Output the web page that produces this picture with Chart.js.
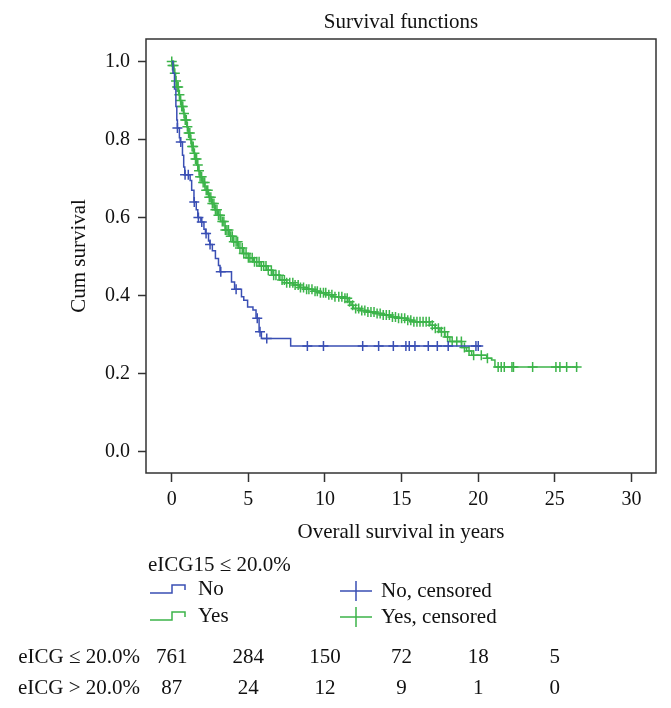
<!DOCTYPE html>
<html>
<head>
<meta charset="utf-8">
<script src="https://cdn.jsdelivr.net/npm/chart.js@4"></script>
<style>
  html, body { margin: 0; padding: 0; background: #fff; }
  #wrap { width: 671px; height: 708px; }
</style>
</head>
<body>
<div id="wrap"><canvas id="chart" width="671" height="708"></canvas></div>
<script>
// Kaplan-Meier steps: event time (years) and survival after that event
const noTimes = [0, 0.08, 0.18, 0.27, 0.33, 0.37, 0.5, 0.55, 0.7, 0.78, 0.85, 1.2, 1.3, 1.45, 1.6, 1.7, 1.9, 2.1, 2.2, 2.4, 2.48, 2.65, 2.85, 3.05, 3.15, 3.9, 4.1, 4.55, 4.7, 4.95, 5.3, 5.5, 5.7, 5.85, 7.76, 20.2];
const noSurv = [1.0, 0.97, 0.93, 0.885, 0.85, 0.83, 0.805, 0.794, 0.76, 0.73, 0.71, 0.695, 0.67, 0.64, 0.62, 0.6, 0.589, 0.57, 0.559, 0.54, 0.531, 0.515, 0.495, 0.477, 0.461, 0.435, 0.416, 0.397, 0.388, 0.371, 0.363, 0.342, 0.307, 0.29, 0.271, 0.271];
const noCensored = [0.37, 0.59, 0.87, 1.08, 1.47, 1.74, 1.96, 2.24, 2.5, 3.2, 4.2, 5.58, 5.76, 6.2, 8.85, 9.9, 12.46, 13.5, 14.46, 15.28, 15.5, 15.87, 16.74, 17.33, 18.04, 19.85, 20.0];

const yesTimes = [0, 0.05, 0.15, 0.25, 0.33, 0.45, 0.54, 0.65, 0.76, 0.87, 0.98, 1.08, 1.19, 1.3, 1.41, 1.52, 1.63, 1.74, 1.85, 2.0, 2.17, 2.4, 2.6, 2.8, 2.98, 3.2, 3.48, 3.75, 4.02, 4.35, 4.67, 5.0, 5.32, 5.75, 6.2, 6.6, 7.06, 7.5, 7.93, 8.35, 8.8, 9.2, 9.67, 10.1, 10.54, 11.2, 11.5, 11.7, 11.85, 12.3, 12.72, 13.3, 13.8, 14.3, 14.78, 15.3, 15.76, 16.85, 17.18, 17.5, 17.83, 18.15, 18.92, 19.24, 19.57, 20.55, 20.87, 21.09, 26.5];
const yesSurv = [1.0, 0.99, 0.97, 0.95, 0.935, 0.915, 0.9, 0.885, 0.867, 0.85, 0.833, 0.817, 0.8, 0.782, 0.765, 0.75, 0.735, 0.72, 0.705, 0.69, 0.67, 0.652, 0.636, 0.62, 0.606, 0.59, 0.568, 0.552, 0.538, 0.522, 0.508, 0.497, 0.487, 0.476, 0.465, 0.452, 0.44, 0.433, 0.427, 0.421, 0.416, 0.411, 0.407, 0.402, 0.397, 0.393, 0.384, 0.375, 0.367, 0.362, 0.358, 0.354, 0.35, 0.345, 0.342, 0.337, 0.333, 0.324, 0.316, 0.307, 0.294, 0.282, 0.267, 0.258, 0.247, 0.239, 0.235, 0.217, 0.217];
const yesCensored = [0.0, 0.05, 0.12, 0.2, 0.28, 0.35, 0.42, 0.5, 0.58, 0.65, 0.72, 0.8, 0.88, 0.95, 1.02, 1.1, 1.18, 1.25, 1.33, 1.4, 1.48, 1.55, 1.62, 1.7, 1.78, 1.85, 1.95, 2.05, 2.15, 2.25, 2.35, 2.45, 2.55, 2.65, 2.75, 2.85, 2.95, 3.05, 3.15, 3.3, 3.4, 3.5, 3.6, 3.7, 3.85, 3.95, 4.05, 4.2, 4.3, 4.45, 4.6, 4.7, 4.85, 5.0, 5.1, 5.25, 5.4, 5.55, 5.7, 5.85, 6.0, 6.15, 6.3, 6.5, 6.65, 6.8, 7.0, 7.2, 7.35, 7.5, 7.7, 7.9, 8.05, 8.25, 8.4, 8.6, 8.8, 8.95, 9.15, 9.35, 9.5, 9.7, 9.9, 10.05, 10.25, 10.45, 10.65, 10.9, 11.1, 11.3, 11.45, 11.6, 11.8, 12.0, 12.2, 12.4, 12.6, 12.8, 13.0, 13.2, 13.4, 13.6, 13.8, 14.0, 14.2, 14.4, 14.6, 14.8, 15.0, 15.2, 15.4, 15.6, 15.8, 16.0, 16.2, 16.4, 16.6, 16.8, 17.0, 17.2, 17.4, 17.6, 17.8, 18.0, 18.3, 18.6, 18.9, 19.1, 19.4, 19.7, 20.2, 20.6, 21.3, 21.5, 21.7, 22.2, 22.3, 23.55, 25.07, 25.33, 25.77, 26.42];

const xTicks = [0, 5, 10, 15, 20, 25, 30];
const yTicks = [0, 0.2, 0.4, 0.6, 0.8, 1.0];

// numbers at risk
const riskTimes = [0, 5, 10, 15, 20, 25];
const riskLow = [761, 284, 150, 72, 18, 5];
const riskHigh = [87, 24, 12, 9, 1, 0];

const BLUE = "#3a4fb4";
const GREEN = "#3cb44a";
const FONT = "'Liberation Serif', 'Times New Roman', serif";

function steps(times, surv) {
  return times.map((t, i) => ({ x: t, y: surv[i] }));
}
function survAt(times, surv, t) {
  let s = surv[0];
  for (let i = 0; i < times.length; i++) {
    if (times[i] <= t) s = surv[i];
  }
  return s;
}
function marks(censored, times, surv) {
  return censored.map((t) => ({ x: t, y: survAt(times, surv, t) }));
}

const extras = {
  id: "extras",
  afterDraw(chart) {
    const ctx = chart.ctx;
    const a = chart.chartArea;
    const xs = chart.scales.x;
    ctx.save();
    ctx.strokeStyle = "#333";
    ctx.lineWidth = 1.5;
    ctx.strokeRect(a.left, a.top, a.right - a.left, a.bottom - a.top);

    ctx.fillStyle = "#111";
    ctx.font = "21px " + FONT;
    ctx.textBaseline = "middle";
    ctx.textAlign = "left";
    ctx.fillText("eICG15 \u2264 20.0%", 148, 565);
    ctx.fillText("No", 198, 589);
    ctx.fillText("Yes", 198, 616);
    ctx.fillText("No, censored", 381, 591);
    ctx.fillText("Yes, censored", 381, 617);

    // stepped line icons
    [[BLUE, 589], [GREEN, 616]].forEach(([c, y]) => {
      ctx.strokeStyle = c;
      ctx.lineWidth = 1.5;
      ctx.beginPath();
      ctx.moveTo(150, y + 4);
      ctx.lineTo(172, y + 4);
      ctx.lineTo(172, y - 4);
      ctx.lineTo(185, y - 4);
      ctx.lineTo(185, y + 1);
      ctx.stroke();
    });
    // censor icons
    [[BLUE, 591], [GREEN, 617]].forEach(([c, y]) => {
      ctx.strokeStyle = c;
      ctx.lineWidth = 1.5;
      ctx.beginPath();
      ctx.moveTo(340, y);
      ctx.lineTo(372, y);
      ctx.moveTo(356, y - 10);
      ctx.lineTo(356, y + 10);
      ctx.stroke();
    });

    // numbers at risk table
    ctx.fillStyle = "#111";
    ctx.textAlign = "right";
    ctx.fillText("eICG \u2264 20.0%", 140, 657);
    ctx.fillText("eICG > 20.0%", 140, 688);
    ctx.textAlign = "center";
    riskTimes.forEach((t, i) => {
      const px = xs.getPixelForValue(t);
      ctx.fillText(String(riskLow[i]), px, 657);
      ctx.fillText(String(riskHigh[i]), px, 688);
    });
    ctx.restore();
  },
};

const tickFont = { family: FONT, size: 20 };
const titleFont = { family: FONT, size: 21 };

new Chart("chart", {
  type: "line",
  data: {
    datasets: [
      {
        label: "No",
        data: steps(noTimes, noSurv),
        borderColor: BLUE,
        borderWidth: 1.5,
        stepped: "before",
        pointRadius: 0,
        fill: false,
      },
      {
        label: "No, censored",
        data: marks(noCensored, noTimes, noSurv),
        showLine: false,
        pointStyle: "cross",
        pointRadius: 5,
        pointBorderWidth: 1.5,
        borderColor: BLUE,
      },
      {
        label: "Yes",
        data: steps(yesTimes, yesSurv),
        borderColor: GREEN,
        borderWidth: 1.5,
        stepped: "before",
        pointRadius: 0,
        fill: false,
      },
      {
        label: "Yes, censored",
        data: marks(yesCensored, yesTimes, yesSurv),
        showLine: false,
        pointStyle: "cross",
        pointRadius: 5,
        pointBorderWidth: 1.5,
        borderColor: GREEN,
      },
    ],
  },
  options: {
    responsive: false,
    animation: false,
    layout: { padding: { left: 0, right: 15, top: 0, bottom: 160 } },
    plugins: {
      legend: { display: false },
      tooltip: { enabled: false },
      title: {
        display: true,
        fullSize: false,
        text: "Survival functions",
        color: "#111",
        font: { family: FONT, size: 21, weight: "normal" },
        padding: { top: 9.5, bottom: 4.3 },
      },
    },
    scales: {
      x: {
        type: "linear",
        min: -1.68,
        max: 31.6,
        afterBuildTicks: (s) => { s.ticks = xTicks.map((v) => ({ value: v })); },
        afterFit: (s) => { s.height = 75; },
        border: { display: false },
        grid: { drawOnChartArea: false, drawTicks: true, tickLength: 9, tickColor: "#333", tickWidth: 1.5 },
        ticks: { color: "#111", font: tickFont, padding: 6, maxRotation: 0, callback: (v) => v },
        title: {
          display: true,
          text: "Overall survival in years",
          color: "#111",
          font: titleFont,
          padding: { top: 0, bottom: 3 },
        },
      },
      y: {
        min: -0.055,
        max: 1.058,
        afterBuildTicks: (s) => { s.ticks = yTicks.map((v) => ({ value: v })); },
        afterFit: (s) => { s.width = 146; },
        border: { display: false },
        grid: { drawOnChartArea: false, drawTicks: true, tickLength: 8, tickColor: "#333", tickWidth: 1.5 },
        ticks: { color: "#111", font: tickFont, padding: 8, callback: (v) => Number(v).toFixed(1) },
        title: {
          display: true,
          text: "Cum survival",
          color: "#111",
          font: titleFont,
          padding: { top: 67, bottom: 0 },
        },
      },
    },
  },
  plugins: [extras],
});
</script>
</body>
</html>
